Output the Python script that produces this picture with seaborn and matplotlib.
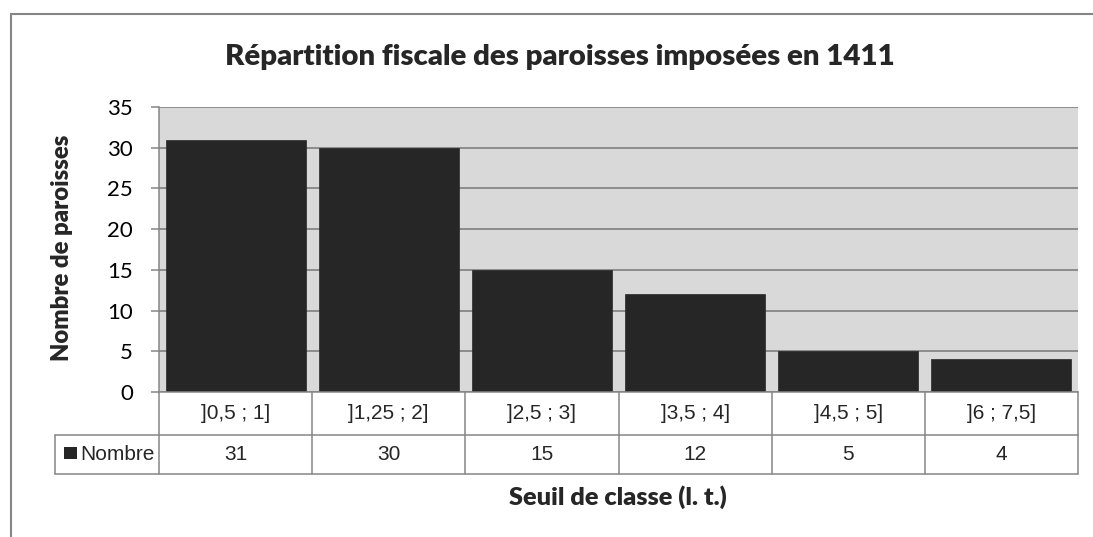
import matplotlib
matplotlib.use("Agg")
import matplotlib.pyplot as plt
import matplotlib.patches as mpatches
from matplotlib.lines import Line2D
from matplotlib.transforms import blended_transform_factory
import seaborn as sns
import pandas as pd

# Tax brackets (livres tournois) and number of parishes in each
categories = ["]0,5 ; 1]", "]1,25 ; 2]", "]2,5 ; 3]", "]3,5 ; 4]", "]4,5 ; 5]", "]6 ; 7,5]"]
counts = [31, 30, 15, 12, 5, 4]
series_name = "Nombre"
y_ticks = [0, 5, 10, 15, 20, 25, 30, 35]

title = "Répartition fiscale des paroisses imposées en 1411"
x_title = "Seuil de classe (l. t.)"
y_title = "Nombre de paroisses"

W, H = 1093, 537
BAR = "#262626"
LINE = "#868686"
PLOT_BG = "#D9D9D9"
HEAVY = "heavy"

sns.set_style("white")
plt.rcParams["font.family"] = ["Lato", "DejaVu Sans"]

df = pd.DataFrame({"classe": categories, "n": counts})

fig = plt.figure(figsize=(W / 100, H / 100), dpi=100)


def fy(ypx):
    return 1 - ypx / H


def fx(xpx):
    return xpx / W


left, right, top, bottom = 159, 1078, 107, 392
ax = fig.add_axes([fx(left), fy(bottom), (right - left) / W, (bottom - top) / H])
ax.set_facecolor(PLOT_BG)

sns.barplot(data=df, x="classe", y="n", color=BAR, saturation=1, width=0.915,
            edgecolor=BAR, linewidth=0.5, ax=ax, zorder=2)

ax.set_xlim(-0.5, len(categories) - 0.5)
ax.set_ylim(0, 35)
ax.set_yticks(y_ticks)
ax.set_xticks([])
ax.yaxis.grid(True, color=LINE, linewidth=1.3)
ax.xaxis.grid(False)
ax.set_axisbelow(True)

for side in ["top", "right"]:
    ax.spines[side].set_visible(False)
for side in ["left", "bottom"]:
    ax.spines[side].set_visible(True)
    ax.spines[side].set_color(LINE)
    ax.spines[side].set_linewidth(1.1)
    ax.spines[side].set_zorder(3)

ax.tick_params(axis="y", left=True, length=5.8, width=1.1, color=LINE,
               pad=13, labelsize=16, labelcolor="black")

ax.set_xlabel("")
ax.set_ylabel(y_title, fontsize=17.2, fontweight=HEAVY)
ax.yaxis.label.set_va("baseline")
ax.yaxis.set_label_coords((69 - left) / (right - left), (bottom - 247.5) / (bottom - top))

# Title and horizontal axis title
fig.text(fx(559.5), fy(65), title, ha="center", va="baseline",
         fontsize=21.2, fontweight=HEAVY)
fig.text(fx(618), fy(505), x_title, ha="center", va="baseline",
         fontsize=18.2, fontweight=HEAVY)

# Data table below the plot area
tr = blended_transform_factory(ax.transData, fig.transFigure)
row1_top, row1_bot, row2_bot = 392, 435, 474
legend_left = 55
table_font = ["Liberation Sans", "DejaVu Sans"]
table_size = 15
n = len(categories)

for i in range(n + 1):
    xb = i - 0.5
    fig.add_artist(Line2D([xb, xb], [fy(row1_top), fy(row2_bot)], transform=tr,
                          color=LINE, linewidth=1.1))
for yrow in (row1_bot, row2_bot):
    fig.add_artist(Line2D([fx(legend_left), fx(right)], [fy(yrow), fy(yrow)],
                          transform=fig.transFigure, color=LINE, linewidth=1.1))
fig.add_artist(Line2D([fx(legend_left), fx(legend_left)], [fy(row1_bot), fy(row2_bot)],
                      transform=fig.transFigure, color=LINE, linewidth=1.1))

for i, (cat, val) in enumerate(zip(categories, counts)):
    fig.text(i, fy((row1_top + row1_bot) / 2), cat, transform=tr, ha="center",
             va="center", fontsize=table_size, family=table_font)
    fig.text(i, fy((row1_bot + row2_bot) / 2), str(val), transform=tr, ha="center",
             va="center", fontsize=table_size, family=table_font)

# Legend key inside the table
fig.add_artist(mpatches.Rectangle((fx(64), fy(459)), 12.5 / W, 12.5 / H,
                                  transform=fig.transFigure, facecolor=BAR,
                                  edgecolor="none"))
fig.text(fx(80), fy((row1_bot + row2_bot) / 2), series_name, ha="left", va="center",
         fontsize=table_size, family=table_font)

# Chart area frame (cropped on the right and bottom)
fig.add_artist(mpatches.Rectangle((fx(11), fy(600)), (1200 - 11) / W, (600 - 14) / H,
                                  transform=fig.transFigure, fill=False,
                                  edgecolor=LINE, linewidth=1.5))

fig.savefig("out.png", dpi=100, facecolor="white")
